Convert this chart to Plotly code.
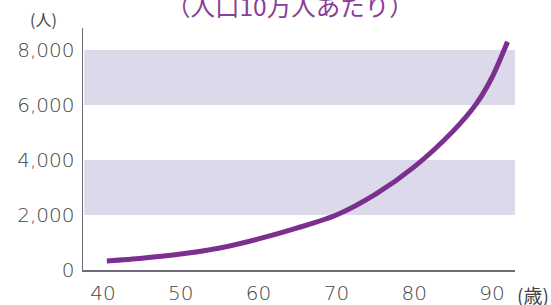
import plotly.graph_objects as go

ages = [40.5, 45, 50, 55, 60, 65, 70, 75, 80, 85, 88, 90, 92]
rates = [330, 430, 580, 800, 1130, 1530, 2000, 2750, 3750, 5050, 6050, 7000, 8300]
x_ticks = [40, 50, 60, 70, 80, 90]
y_ticks = [0, 2000, 4000, 6000, 8000]
y_tick_labels = ["0", "2,000", "4,000", "6,000", "8,000"]
bands = [(2000, 4000), (6000, 8000)]

fig = go.Figure()
fig.add_trace(go.Scatter(x=ages, y=rates, mode="lines",
                         line=dict(color="#7b2f8f", width=5, shape="spline", smoothing=0.8),
                         hoverinfo="skip"))

for y0, y1 in bands:
    fig.add_shape(type="rect", xref="paper", x0=0.003, x1=1, yref="y", y0=y0, y1=y1,
                  fillcolor="#dcd9ea", line=dict(width=0), layer="below")

tick_font = dict(family="DejaVu Sans", size=20, color="#454545", weight=300)

fig.update_layout(
    width=551, height=305,
    margin=dict(l=83, r=36, t=28, b=35, autoexpand=False),
    paper_bgcolor="white", plot_bgcolor="white",
    showlegend=False,
    hovermode=False,
    font=dict(family="DejaVu Sans", color="#454545", size=18),
    xaxis=dict(range=[37.43, 92.96], tickvals=x_ticks, showgrid=False, zeroline=False,
               showline=True, linecolor="#6f6a78", linewidth=1.5, automargin=False,
               ticks="outside", ticklen=0, ticklabelstandoff=4, tickfont=tick_font),
    yaxis=dict(range=[0, 8800], tickvals=y_ticks, ticktext=y_tick_labels, showgrid=False,
               zeroline=False, showline=True, linecolor="#6f6a78", linewidth=1.5,
               automargin=False, ticks="outside", ticklen=0, ticklabelstandoff=3,
               tickfont=tick_font),
    annotations=[
        dict(text="（人口10万人あたり）", xref="paper", yref="paper", x=0.48, y=1.095,
             xanchor="center", yanchor="middle", showarrow=False,
             font=dict(size=24.5, color="#8b3d98", family="Noto Sans CJK JP")),
        dict(text="(人)", xref="paper", yref="paper", x=-0.091, y=0.98,
             xanchor="center", yanchor="bottom", showarrow=False,
             font=dict(size=16, color="#454545", family="Noto Sans CJK JP")),
        dict(text="(歳)", xref="paper", yref="paper", x=1.0, y=-0.102,
             xanchor="left", yanchor="middle", showarrow=False,
             font=dict(size=19, color="#454545", family="Noto Sans CJK JP")),
    ],
)

fig.write_html("out.html", config={"displayModeBar": False, "staticPlot": True},
               post_script="document.body.style.margin='0';")
